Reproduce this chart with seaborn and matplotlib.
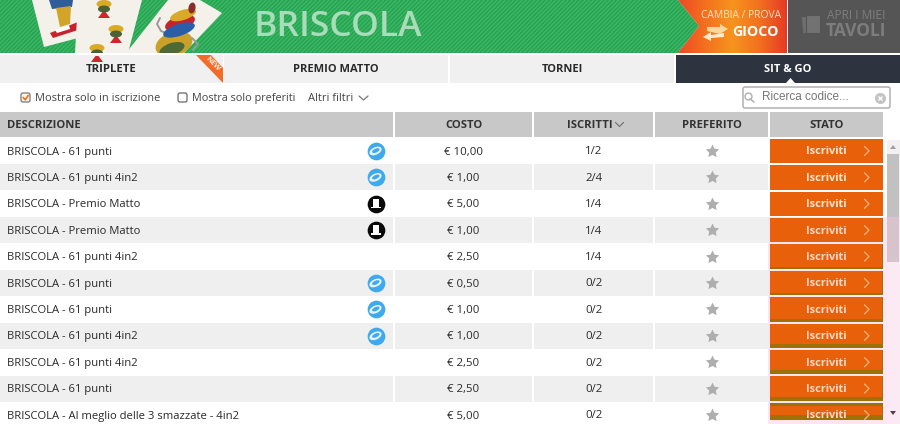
import numpy as np
import pandas as pd
import matplotlib
matplotlib.use('Agg')
import matplotlib.pyplot as plt
from matplotlib.collections import LineCollection
from matplotlib.colors import LinearSegmentedColormap
from matplotlib.patches import Ellipse, FancyBboxPatch, Polygon, Rectangle
from matplotlib.path import Path
import seaborn as sns

# table content
descrizioni = [
    'BRISCOLA - 61 punti', 'BRISCOLA - 61 punti 4in2', 'BRISCOLA - Premio Matto',
    'BRISCOLA - Premio Matto', 'BRISCOLA - 61 punti 4in2', 'BRISCOLA - 61 punti',
    'BRISCOLA - 61 punti', 'BRISCOLA - 61 punti 4in2', 'BRISCOLA - 61 punti 4in2',
    'BRISCOLA - 61 punti', 'BRISCOLA - Al meglio delle 3 smazzate - 4in2',
]
costi = ['€ 10,00', '€ 1,00', '€ 5,00', '€ 1,00', '€ 2,50', '€ 0,50',
         '€ 1,00', '€ 1,00', '€ 2,50', '€ 2,50', '€ 5,00']
iscritti = ['1/2', '2/4', '1/4', '1/4', '1/4', '0/2', '0/2', '0/2', '0/2', '0/2', '0/2']
badge = ['chip', 'chip', 'hat', 'hat', '', 'chip', 'chip', 'chip', '', '', '']
tabs = ['TRIPLETE', 'PREMIO MATTO', 'TORNEI', 'SIT & GO']
colonne = ['DESCRIZIONE', 'COSTO', 'ISCRITTI', 'PREFERITO', 'STATO']

sns.set_theme(style='white')
plt.rcParams['font.family'] = ['Open Sans', 'DejaVu Sans']

TEXT = '#2a2a2a'
ORANGE = '#e8610a'
OLIVE = '#9c7208'
GREEN = '#27a552'

fig = plt.figure(figsize=(9, 4.24), dpi=100)
ax = fig.add_axes([0, 0, 1, 1])
ax.set_axis_off()


def box(x0, y0, x1, y1, color, z=1, **kw):
    ax.add_patch(Rectangle((x0, y0), x1 - x0, y1 - y0, facecolor=color, edgecolor='none', zorder=z, **kw))


def poly(pts, color, z=3, **kw):
    ax.add_patch(Polygon(pts, facecolor=color, edgecolor='none', zorder=z, **kw))


def oval(cx, cy, w, h, color, z=3, angle=-18):
    patch = Ellipse((cx, cy), w, h, angle=angle, facecolor=color, edgecolor='none', zorder=z)
    ax.add_patch(patch)
    patch.set_clip_path(Rectangle((0, 0), 900, 53, transform=ax.transData))


# header: green band with stripes
green_shape = [(0, 0), (678, 0), (699, 26), (678, 53), (0, 53)]
green = Polygon(green_shape, facecolor=GREEN, edgecolor='none', zorder=1)
ax.add_patch(green)
stripes = LineCollection([[(x, 53), (x + 53, 0)] for x in np.arange(-60, 700, 4.2)],
                         colors='#3fb868', linewidths=0.9, zorder=1.2)
ax.add_collection(stripes)
stripes.set_clip_path(green)

# orange gradient panel
cmap = LinearSegmentedColormap.from_list('cambia', ['#ee4a25', '#f4701f', '#f7941d', '#f2701f', '#e63a25'])
grad = ax.imshow(np.linspace(0, 1, 200).reshape(1, -1), extent=(678, 787, 53, 0), cmap=cmap, aspect='auto', zorder=1)
panel = Polygon([(678, 0), (787, 0), (787, 53), (678, 53), (699, 26)], transform=ax.transData,
                facecolor='none', edgecolor='none')
ax.add_patch(panel)
grad.set_clip_path(panel)
box(788, 0, 900, 53, '#555555')

# playing cards
poly([(32, 0), (78, 0), (78, 38), (44, 47)], '#f4f1ea', z=2)
poly([(78, 0), (142, 0), (128, 53), (75, 53)], '#f4f1ea', z=2.1)
poly([(168, 0), (200, 0), (222, 13), (184, 53), (126, 53)], '#f4f1ea', z=2.2)
# figure on the first card
poly([(49, 0), (73, 0), (72, 7), (52, 9)], '#2f5d9b', z=2.05)
poly([(56, 8), (71, 6), (70, 24), (60, 27)], '#d2a52a', z=2.05)
poly([(50, 33), (78, 22), (78, 30), (53, 38)], '#c8232c', z=2.05)
poly([(55, 30), (69, 25), (70, 29), (57, 33)], '#ffffff', z=2.06)
# cups on the second card
for cx, cy in [(104, 6), (116, 31), (97, 50)]:
    oval(cx, cy - 2, 15, 8, '#d8aa25', z=3, angle=0)
    oval(cx, cy + 3, 12, 7, '#4a6236', z=3.1, angle=0)
    poly([(cx - 1.5, cy + 6), (cx + 1.5, cy + 6), (cx + 6, cy + 12), (cx - 6, cy + 12)], '#d2242b')
# jar on the third card
oval(174, 44, 38, 24, '#c9a12a', z=3)
oval(172, 49, 26, 12, '#4d6a34', z=3.1)
oval(179, 30, 33, 12, '#2b5ea8', z=3.2)
oval(180, 23, 31, 14, '#c8232c', z=3.1)
oval(183, 15, 27, 10, '#d8aa25', z=3.2)
oval(192, 8, 7, 11, '#8a2c2a', z=3.2, angle=10)
ax.plot([160, 157, 161, 166], [18, 24, 31, 33], color='#9a9a9a', lw=1.4, zorder=3)
ax.plot([192, 198, 193], [38, 44, 50], color='#9a9a9a', lw=1.4, zorder=3)

ax.text(338, 27.5, 'BRISCOLA', color='#a9ddb9', fontsize=25.5, fontweight='semibold',
        ha='center', va='center', zorder=4)
ax.text(741.5, 15.5, 'CAMBIA / PROVA', color='#ffe3c4', fontsize=7.4, ha='center', va='center', zorder=4)
ax.text(755.5, 32, 'GIOCO', color='white', fontsize=10.2, fontweight='bold', ha='center', va='center', zorder=4)
poly([(707, 27), (720, 27), (720, 24), (728, 29), (720, 34), (707, 31)], '#ffd79a', z=4)
poly([(724, 33), (711, 35), (711, 32), (703, 37), (711, 41), (711, 38), (724, 37)], '#ffe9cf', z=4)
ax.text(856, 15.5, 'APRI I MIEI', color='#7d7d7d', fontsize=8.6, ha='center', va='center', zorder=4)
ax.text(856, 31, 'TAVOLI', color='#7d7d7d', fontsize=12.5, fontweight='bold', ha='center', va='center', zorder=4)
ax.add_patch(Polygon([(801, 17), (819, 15), (820, 33), (803, 34)], facecolor='#6e6e6e', edgecolor='#555555', lw=0.8, zorder=4))
ax.add_patch(Polygon([(806, 15), (820, 15), (820, 33), (806, 33)], facecolor='#727272', edgecolor='#555555', lw=0.8, zorder=4))

# tab bar
tab_edges = [(0, 223), (224, 448), (450, 674), (676, 900)]
for i, (name, (x0, x1)) in enumerate(zip(tabs, tab_edges)):
    last = i == len(tabs) - 1
    box(x0, 55, x1, 83, '#2d3440' if last else '#f0f0f0')
    ax.text((x0 + x1) / 2, 70, name, color='white' if last else TEXT, fontsize=8 if i else 8.2,
            fontweight='bold', ha='center', va='center', zorder=3)
poly([(786, 83), (790.5, 78), (795, 83)], 'white')
poly([(196, 55), (211, 55), (223, 68), (223, 83)], '#f26c28', z=4)
ax.text(213, 64, 'NEW', color='#fff2e8', fontsize=5.4, fontweight='bold', rotation=-45,
        ha='center', va='center', zorder=5, rotation_mode='anchor')

# filter row
ax.add_patch(FancyBboxPatch((21, 93), 9, 9, boxstyle='round,pad=0,rounding_size=2', facecolor='#fff6ec',
                            edgecolor='#777777', lw=0.9, zorder=3))
ax.plot([23.2, 25.3, 28.2], [97.5, 99.8, 95.5], color='#e8701a', lw=1.2, zorder=4)
ax.text(35, 98.3, 'Mostra solo in iscrizione', color='#444444', fontsize=7.95, va='center', zorder=3)
ax.add_patch(FancyBboxPatch((178, 93), 9, 9, boxstyle='round,pad=0,rounding_size=2', facecolor='white',
                            edgecolor='#666666', lw=0.9, zorder=3))
ax.text(192, 98.3, 'Mostra solo preferiti', color='#444444', fontsize=7.8, va='center', zorder=3)
ax.text(308, 98.3, 'Altri filtri', color='#444444', fontsize=8, va='center', zorder=3)
ax.plot([359, 363.5, 368], [96, 100, 96], color='#777777', lw=0.9, zorder=3)
ax.add_patch(FancyBboxPatch((743, 87), 147, 21, boxstyle='round,pad=0,rounding_size=2', facecolor='white',
                            edgecolor='#a8a8a8', lw=1, zorder=3))
ax.text(762.5, 97.5, 'Ricerca codice...', color='#777777', fontsize=8.5, family='Liberation Sans', va='center', zorder=4)
ax.plot([747.5], [96.3], 'o', ms=5, mfc='none', mec='#b0b0b0', mew=1, zorder=4)
ax.plot([750, 754], [98.8, 102], color='#b0b0b0', lw=1.1, zorder=4)
ax.plot([880], [97.5], 'o', ms=7, color='#c4c4c4', zorder=4)
ax.plot([880], [97.5], 'x', ms=3, color='white', mew=0.9, zorder=5)

# column headings
col_edges = [(0, 393), (395, 532), (534, 653), (655, 768), (770, 883)]
for i, (name, (x0, x1)) in enumerate(zip(colonne, col_edges)):
    box(x0, 112, x1, 136.5, '#c8c8c8')
    tx = 7 if i == 0 else (x0 + x1) / 2
    if i == 2:
        tx -= 4
    ax.text(tx, 125, name, color='#333333', fontsize=8.1, fontweight='bold',
            ha='left' if i == 0 else 'center', va='center', zorder=3)
ax.plot([615.5, 619.5, 623.5], [122.5, 126.5, 122.5], color='#777777', lw=0.9, zorder=3)

# rows
rows = pd.DataFrame({'descrizione': descrizioni, 'costo': costi, 'iscritti': iscritti, 'badge': badge})
rows['y'] = 151 + 26.4 * rows.index
rows['x_stella'] = 711.5
rows['x_badge'] = 375.5

# pink tint behind the lower buttons and scrollbar track
box(768, 217, 887, 424, '#fde6f3')
box(887, 140, 900, 424, '#f3f0f2')
box(887, 217, 900, 424, '#fbeaf3')
box(887, 154, 899, 217, '#c1c1c1')
box(887, 217, 899, 262, '#d6c3cc')
poly([(890, 149), (893, 145), (896, 149)], '#a0a0a0', z=2)
poly([(890, 411), (893, 415), (896, 411)], '#50404a', z=2)

# height of the olive strip under each button
olive_strip = [0, 0, 0, 0, 1.5, 2.5, 3, 4, 4, 4, 5]

for i, row in rows.iterrows():
    y = row['y']
    if i % 2 == 1:
        for x0, x1 in col_edges[:4]:
            box(x0, y - 13, x1, y + 13, '#efefef')
    ax.text(7, y + 1, row['descrizione'], color=TEXT, fontsize=8.1, fontweight='medium', va='center', zorder=3)
    ax.text(463.5, y + 1, row['costo'], color=TEXT, fontsize=8.2, fontweight='medium', ha='center', va='center', zorder=3)
    ax.text(593.5, y + 1, row['iscritti'], color=TEXT, fontsize=8.2, fontweight='medium', ha='center', va='center', zorder=3)
    # button
    top, bottom = y - 12.2, y + 12.2
    if i == 10:
        bottom = 420
    box(770, top, 883, bottom, OLIVE if i >= 3 else ORANGE, z=2)
    if i >= 3:
        box(770, top + (3 if i == 10 else 0), 881.5, bottom - olive_strip[i], ORANGE, z=2.1)
    ax.text(826, y + 1, 'Iscriviti', color='#ffe6cf' if i < 3 else '#ffd8c8', fontsize=7.9, fontweight='bold',
            ha='center', va='center', zorder=3)
    ax.plot([864.5, 869, 864.5], [y - 4.5, y, y + 4.5], color='#f7b27c', lw=0.9, zorder=3)
box(768, 420, 887, 424, '#fde6f3', z=3.5)

# stars and badges go through seaborn
fat_star = Path.unit_regular_star(5, innerCircle=0.5)
sns.scatterplot(data=rows, x='x_stella', y='y', marker=fat_star, s=100, color='#aeaeae', linewidth=0,
                ax=ax, legend=False, zorder=4)
chips = rows[rows['badge'] == 'chip']
hats = rows[rows['badge'] == 'hat']
sns.scatterplot(data=chips, x='x_badge', y='y', marker='o', s=162, color='#3fa9ee', linewidth=0,
                ax=ax, legend=False, zorder=4)
for y in chips['y']:
    ax.add_patch(Ellipse((375.5, y), 13, 7.5, angle=-25, facecolor='#e4f3fd', edgecolor='none', zorder=5))
    ax.add_patch(Ellipse((375.8, y - 0.4), 8, 3.8, angle=-25, facecolor='#3fa9ee', edgecolor='none', zorder=6))
sns.scatterplot(data=hats, x='x_badge', y='y', marker='o', s=162, color='#0a0a0a', linewidth=0,
                ax=ax, legend=False, zorder=4)
for y in hats['y']:
    box(373, y - 5, 378.5, y + 3, 'white', z=5)
    box(371, y + 3, 380.5, y + 4.6, 'white', z=5)

ax.set_xlim(0, 900)
ax.set_ylim(424, 0)
ax.set_xlabel('')
ax.set_ylabel('')

fig.savefig('out.png', dpi=100, facecolor='white')
plt.close(fig)
